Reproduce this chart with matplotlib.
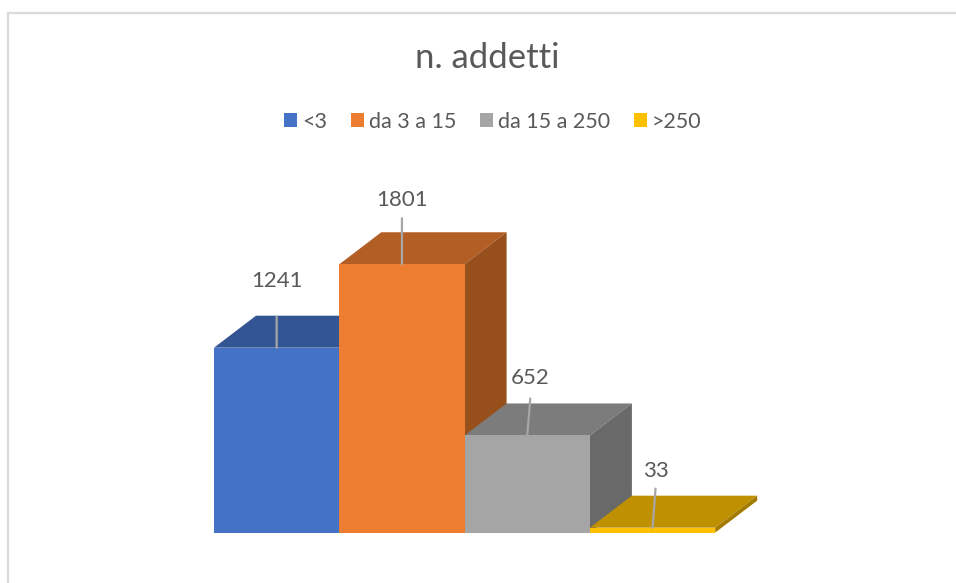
import matplotlib
matplotlib.use("Agg")
from matplotlib import pyplot as plt
from matplotlib.lines import Line2D
from matplotlib.patches import Patch, Polygon

categorie = ["<3", "da 3 a 15", "da 15 a 250", ">250"]
addetti = [1241, 1801, 652, 33]

col_fronte = ["#4472C4", "#ED7D31", "#A5A5A5", "#FFC000"]
col_sopra = ["#335593", "#B25E25", "#7C7C7C", "#BF9000"]
col_lato = ["#2C4A7E", "#97501C", "#696969", "#A37B00"]

# spostamenti in pixel di etichette e linee guida rispetto alla cima della barra
etich_off = [(0, 67), (0, 64), (3, 57), (3, 57)]
linea_off = [(0, 31), (0, 46), (3, 37), (3, 39)]

W, H = 956, 583
base_px = 532.6
sx = 125.3    # pixel per categoria
sy = 0.149    # pixel per addetto
prof_x = 42 / sx
prof_y = 32 / sy

plt.rcParams["font.family"] = ["Lato", "DejaVu Sans"]

fig = plt.figure(figsize=(W / 100, H / 100), dpi=100)
ax = fig.add_axes([0, 0, 1, 1])
ax.set_xlim(-0.5 - 214 / sx, -0.5 + (W - 214) / sx)
ax.set_ylim((base_px - H) / sy, base_px / sy)
ax.axis("off")

# cornice del grafico, aperta a destra e in basso
fig.add_artist(Line2D([7.5 / W, 7.5 / W, 1], [0, 1 - 12.5 / H, 1 - 12.5 / H],
                      color="#D9D9D9", lw=1.6, solid_joinstyle="miter"))

for i, v in enumerate(addetti):
    x0, x1 = i - 0.5, i + 0.5
    ax.add_patch(Polygon([(x0, v), (x0 + prof_x, v + prof_y), (x1 + prof_x, v + prof_y), (x1, v)],
                         fc=col_sopra[i], ec="none", zorder=2 + i))
    ax.add_patch(Polygon([(x1, 0), (x1 + prof_x, prof_y), (x1 + prof_x, v + prof_y), (x1, v)],
                         fc=col_lato[i], ec="none", zorder=2 + i))
    ax.bar(i, v, width=1, color=col_fronte[i], zorder=2 + i)

for i, v in enumerate(addetti):
    ax.annotate("", xy=(i, v), xytext=linea_off[i], textcoords="offset pixels",
                arrowprops=dict(arrowstyle="-", color="#A6A6A6", lw=1.6,
                                shrinkA=0, shrinkB=0), zorder=10)
    ax.annotate(str(v), xy=(i, v), xytext=etich_off[i], textcoords="offset pixels",
                ha="center", va="center", fontsize=16, color="#595959", zorder=11)

fig.text(487 / W, 1 - 58 / H, "n. addetti", ha="center", va="center",
         fontsize=25, color="#595959")

maniglie = [Patch(fc=c, ec="none") for c in col_fronte]
leg = ax.legend(maniglie, categorie, ncol=4, loc="center", frameon=False,
                bbox_to_anchor=(492.5 / W, 1 - 122 / H), fontsize=15.5,
                labelcolor="#595959", handlelength=0.62, handleheight=0.62,
                handletextpad=0.22, columnspacing=1.1, borderpad=0)

plt.savefig("out.png", dpi=100)
